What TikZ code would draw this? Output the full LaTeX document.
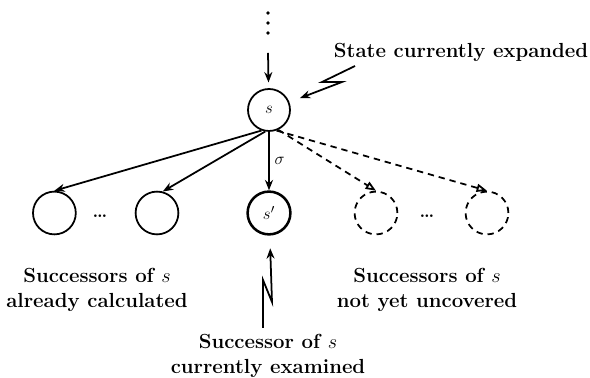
\documentclass[tikz,border=0pt]{standalone}
\usetikzlibrary{arrows.meta}
\begin{document}
\begin{tikzpicture}[line width=1.25pt,
  stato/.style={circle, draw, minimum size=1.07cm, inner sep=0pt, font=\fontsize{13}{15}\selectfont},
  ignoto/.style={stato, dashed, dash pattern=on 4.5pt off 3.5pt},
  freccia/.style={-{Stealth[length=2.6mm,width=2mm]}},
  aperta/.style={-{Triangle[open,length=2.6mm,width=2mm]}, dashed, dash pattern=on 4.5pt off 3.5pt},
  testo/.style={font=\fontsize{14.5}{17.8}\selectfont\bfseries, align=center}]
   \useasboundingbox (0,0) rectangle (14.75,9.45);
   %stati
   \node[stato, minimum size=1.05cm] (s) at (6.725,6.7) {$s$};
   \node[stato] (c1) at (1.36,4.125) {};
   \node[stato] (c2) at (3.925,4.125) {};
   \node[stato, line width=1.8pt] (sp) at (6.725,4.125) {$s'$};
   \node[ignoto] (u1) at (9.4,4.125) {};
   \node[ignoto] (u2) at (12.175,4.125) {};
   \node[font=\fontsize{13}{15}\selectfont] (d1) at (2.5,4.04) {\bfseries\dots};
   \node[font=\fontsize{13}{15}\selectfont] (d2) at (10.675,4.04) {\bfseries\dots};
   %puntini sopra
   \foreach \y in {9.125,8.875,8.625} \fill (6.7,\y) circle (1.3pt);
   \coordinate (top) at (6.7,8.125);
   \draw[freccia, shorten >=4pt] (top) -- (s);
   %frecce
   \draw[freccia] (s.250) -- (c1.north);
   \draw[freccia] (s.260) -- (c2.75);
   \draw[freccia] (s) -- node[right, font=\fontsize{13}{15}\selectfont] {$\sigma$} (sp);
   \draw[aperta] (s.295) -- (u1.north);
   \draw[aperta] (s.290) -- (u2.north);
   %etichette
   \node[testo] (lt) at (11.525,8.15) {State currently expanded};
   \node[testo] (ll) at (2.425,2.2) {Successors of $s$\\already calculated};
   \node[testo] (lr) at (10.675,2.2) {Successors of $s$\\not yet uncovered};
   \node[testo] (lb) at (6.7,0.56) {Successor of $s$\\currently examined};
   %fulmini
   \coordinate (za) at (8.875,7.8);
   \draw[freccia, shorten >=8pt] (za) -- (8.05,7.4) -- (8.55,7.4) -- (s);
   \coordinate (zb) at (6.575,1.25);
   \draw[freccia, shorten >=9pt] (zb) -- (6.575,2.45) -- (6.8,1.9) -- (sp);
\end{tikzpicture}
\end{document}
